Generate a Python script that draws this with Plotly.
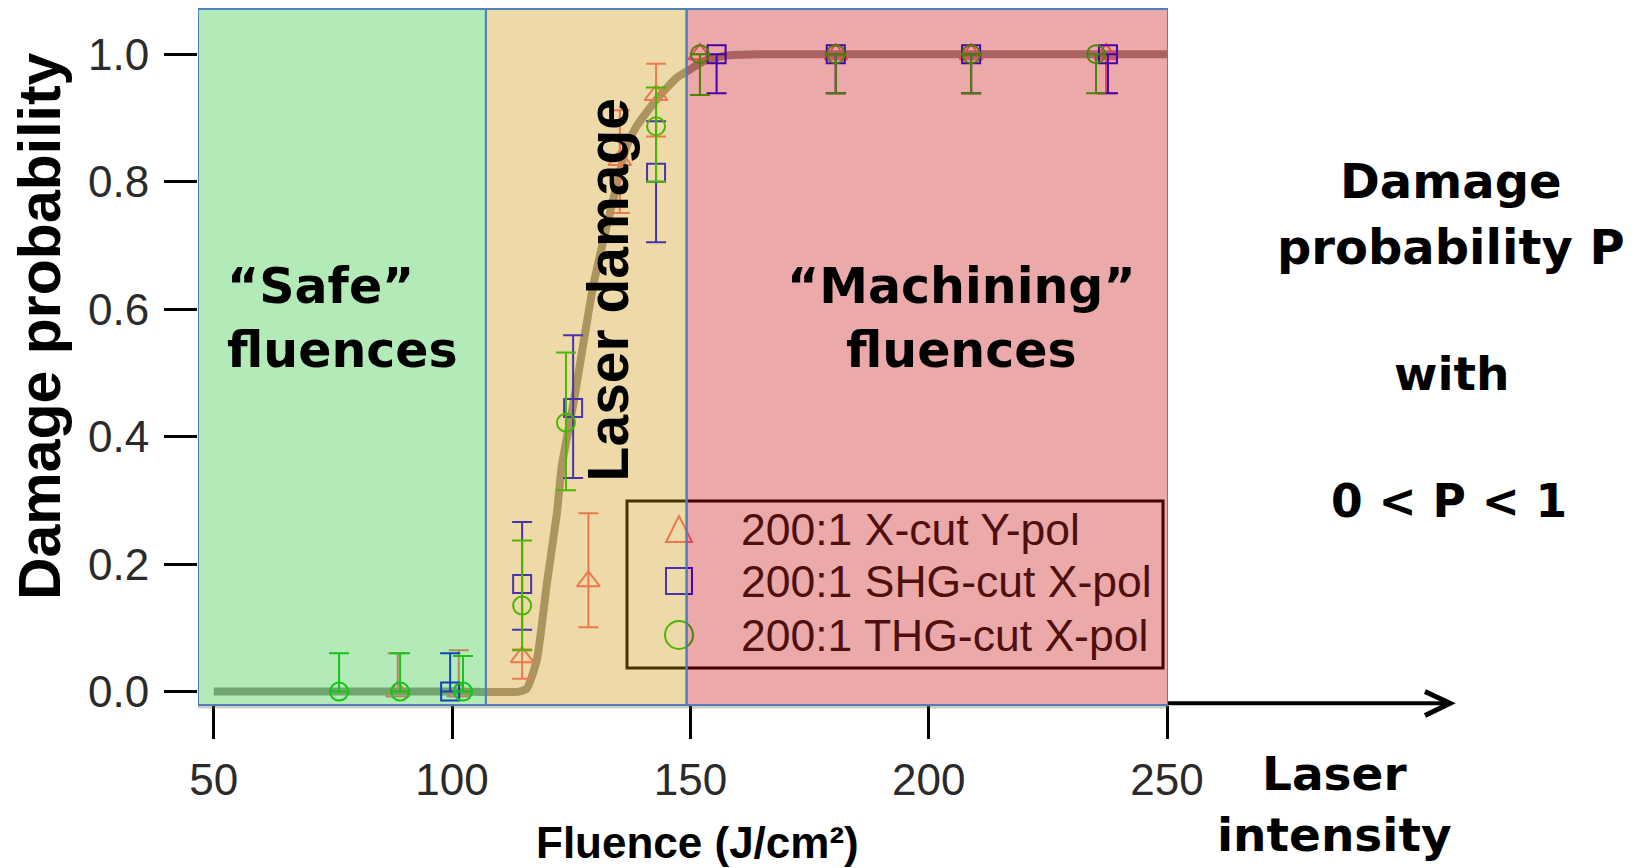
import plotly.graph_objects as go

# ---- measured damage probabilities (fluence in J/cm^2) ----
xcut_x = [88.6, 101.4, 114.7, 128.6, 135.2, 142.8, 152.0, 180.5, 208.9, 237.2]
xcut_p = [0.0, 0.0, 0.054, 0.173, 0.834, 0.936, 1.0, 1.0, 1.0, 1.0]
xcut_hi = [0.06, 0.065, 0.012, 0.107, 0.078, 0.049, 0.0, 0.0, 0.0, 0.0]
xcut_lo = [0.0, 0.0, 0.034, 0.072, 0.083, 0.065, 0.064, 0.061, 0.061, 0.061]

shg_x = [99.6, 114.7, 125.4, 142.8, 155.5, 180.5, 208.9, 237.6]
shg_p = [0.0, 0.169, 0.445, 0.814, 1.0, 1.0, 1.0, 1.0]
shg_hi = [0.06, 0.097, 0.114, 0.081, 0.0, 0.0, 0.0, 0.0]
shg_lo = [0.0, 0.072, 0.11, 0.109, 0.061, 0.061, 0.061, 0.061]

thg_x = [76.3, 89.1, 102.3, 114.7, 123.9, 142.8, 152.0, 180.5, 208.9, 235.1]
thg_p = [0.0, 0.0, 0.0, 0.135, 0.422, 0.887, 1.0, 1.0, 1.0, 1.0]
thg_hi = [0.06, 0.06, 0.056, 0.102, 0.11, 0.061, 0.0, 0.0, 0.0, 0.0]
thg_lo = [0.0, 0.0, 0.0, 0.07, 0.106, 0.087, 0.064, 0.061, 0.061, 0.061]

# fitted damage-probability curve
fit_x = [50, 100, 114, 115.7, 117.8, 119.9, 122, 123, 125.6, 127.9, 129.6,
         133.8, 136.6, 138.7, 143, 147.1, 149.9, 152.7, 157.6, 164, 200, 250]
fit_p = [0.0, 0.0, 0.0, 0.005, 0.05, 0.17, 0.28, 0.353, 0.458, 0.5625, 0.636,
         0.772, 0.855, 0.887, 0.93, 0.963, 0.976, 0.989, 0.998, 1.0, 1.0, 1.0]

series_names = ["200:1 X-cut Y-pol", "200:1 SHG-cut X-pol", "200:1 THG-cut X-pol"]

# fluence regimes
regime_edges = [46.7, 107.1, 149.2, 250.2]
regime_fill = ["rgba(35,198,52,0.35)", "rgba(204,149,6,0.35)", "rgba(198,9,9,0.35)"]

x_ticks = [50, 100, 150, 200, 250]
y_ticks = [0.0, 0.2, 0.4, 0.6, 0.8, 1.0]

RED = "rgb(255,105,120)"
BLUE = "rgb(0,0,255)"
GREEN = "rgb(10,200,0)"

# plot-area geometry in pixels (used to place paper-space decorations)
W, H = 1641, 868
ML, MR, MT, MB = 198, 473, 9, 163
PW, PH = W - ML - MR, H - MT - MB


def px(x):
    return (x - ML) / PW


def py(y):
    return (H - MB - y) / PH


fig = go.Figure()

fig.add_trace(go.Scatter(
    x=fit_x, y=fit_p, mode="lines", showlegend=False, hoverinfo="skip",
    line=dict(color="rgb(155,148,144)", width=8, shape="spline", smoothing=0.5),
))


def series(name, xs, ys, hi, lo, symbol, color, size):
    return go.Scatter(
        x=xs, y=ys, mode="markers", name=name, showlegend=False,
        marker=dict(symbol=symbol, size=size, color=color,
                    line=dict(color=color, width=2)),
        error_y=dict(type="data", symmetric=False, array=hi, arrayminus=lo,
                     color=color, thickness=2, width=10),
    )


fig.add_trace(series(series_names[0], xcut_x, xcut_p, xcut_hi, xcut_lo,
                     "triangle-up-open", RED, 20))
fig.add_trace(series(series_names[1], shg_x, shg_p, shg_hi, shg_lo,
                     "square-open", BLUE, 18))
fig.add_trace(series(series_names[2], thg_x, thg_p, thg_hi, thg_lo,
                     "circle-open", GREEN, 18))

# ---- legend box with its keys (drawn under the regime panels) ----
fig.add_shape(type="rect", xref="paper", yref="paper",
              x0=px(627), x1=px(1163), y0=py(668), y1=py(501),
              line=dict(color="black", width=3), fillcolor="rgba(0,0,0,0)",
              layer="above")
key_x = 679
key_rows = [529, 581, 635]
r = 13
fig.add_shape(type="path", xref="paper", yref="paper",
              path=(f"M {px(key_x - r)},{py(key_rows[0] + r)} "
                    f"L {px(key_x + r)},{py(key_rows[0] + r)} "
                    f"L {px(key_x)},{py(key_rows[0] - r)} Z"),
              line=dict(color=RED, width=2), layer="above")
fig.add_shape(type="rect", xref="paper", yref="paper",
              x0=px(key_x - r), x1=px(key_x + r),
              y0=py(key_rows[1] + r), y1=py(key_rows[1] - r),
              line=dict(color=BLUE, width=2), layer="above")
fig.add_shape(type="circle", xref="paper", yref="paper",
              x0=px(key_x - r - 1), x1=px(key_x + r + 1),
              y0=py(key_rows[2] + r + 1), y1=py(key_rows[2] - r - 1),
              line=dict(color=GREEN, width=2), layer="above")

# translucent regime panels laid over the data
for i, fill in enumerate(regime_fill):
    fig.add_shape(type="rect", xref="x", yref="paper",
                  x0=regime_edges[i], x1=regime_edges[i + 1], y0=0, y1=1,
                  fillcolor=fill, line=dict(color="rgb(79,129,189)", width=2),
                  layer="above")

# faint shadow under the panels
fig.add_shape(type="line", xref="paper", yref="paper",
              x0=0.0, x1=1.0, y0=py(707), y1=py(707),
              line=dict(color="rgba(110,110,110,0.35)", width=3), layer="above")

# laser-intensity arrow
fig.add_shape(type="line", xref="paper", yref="paper",
              x0=1.0, x1=px(1450), y0=py(703.3), y1=py(703.3),
              line=dict(color="black", width=4), layer="above")
fig.add_shape(type="path", xref="paper", yref="paper",
              path=(f"M {px(1425)},{py(691.5)} L {px(1450)},{py(703.3)} "
                    f"L {px(1425)},{py(715.5)}"),
              line=dict(color="black", width=5), layer="above")

BOLD_WIDE = "DejaVu Sans"
BOLD_ARIAL = "Liberation Sans"


def note(text, x, y, size, family, angle=0, align="center", xanchor="center",
         color="black", weight="bold"):
    fig.add_annotation(text=text, x=x, y=y, xref="paper", yref="paper",
                       showarrow=False, textangle=angle, align=align,
                       xanchor=xanchor, yanchor="middle",
                       font=dict(family=family, size=size, color=color,
                                 weight=weight))


for name, row in zip(series_names, key_rows):
    note(name, px(739), py(row), 44.5, "Liberation Sans", xanchor="left",
         color="rgb(80,15,15)", weight="normal")

note("\u201cSafe\u201d<br>fluences", px(225), 0.555, 49, BOLD_WIDE,
     align="left", xanchor="left")
note("\u201cMachining\u201d<br>fluences", px(961), 0.555, 49, BOLD_WIDE)
note("Laser damage", px(608), 0.5957, 57, BOLD_ARIAL, angle=-90)
note("Damage", px(1451), py(181), 48, BOLD_WIDE)
note("probability P", px(1451), py(247), 48, BOLD_WIDE)
note("with", px(1451), py(374), 47, BOLD_WIDE)
note("0 &lt; P &lt; 1", px(1449), py(501), 45.5, BOLD_WIDE)
note("Laser<br>intensity", px(1334), -0.1422, 47, BOLD_WIDE)
note("Fluence (J/cm\u00b2)", px(697.5), -0.1976, 44, BOLD_ARIAL)
note("Damage probability", px(39.6), 0.5438, 59, BOLD_ARIAL, angle=-90)

axis_font = dict(family="Liberation Sans", size=44, color="#2a2a2a")

fig.update_xaxes(range=[46.7, 250.2], tickvals=x_ticks, ticks="outside",
                 ticklen=33, tickwidth=3, tickcolor="black", showgrid=False,
                 zeroline=False, showline=False, tickfont=axis_font,
                 ticklabelstandoff=3)
fig.update_yaxes(range=[-0.021, 1.071], tickvals=y_ticks, tickformat=".1f",
                 ticks="outside", ticklen=33, tickwidth=3, tickcolor="black",
                 showgrid=False, zeroline=False, showline=False,
                 tickfont=axis_font, ticklabelstandoff=6)

fig.update_layout(
    width=W, height=H,
    margin=dict(l=ML, r=MR, t=MT, b=MB),
    paper_bgcolor="white", plot_bgcolor="white",
    font=dict(family="Liberation Sans"),
    showlegend=False,
)

fig.write_html("out.html")
